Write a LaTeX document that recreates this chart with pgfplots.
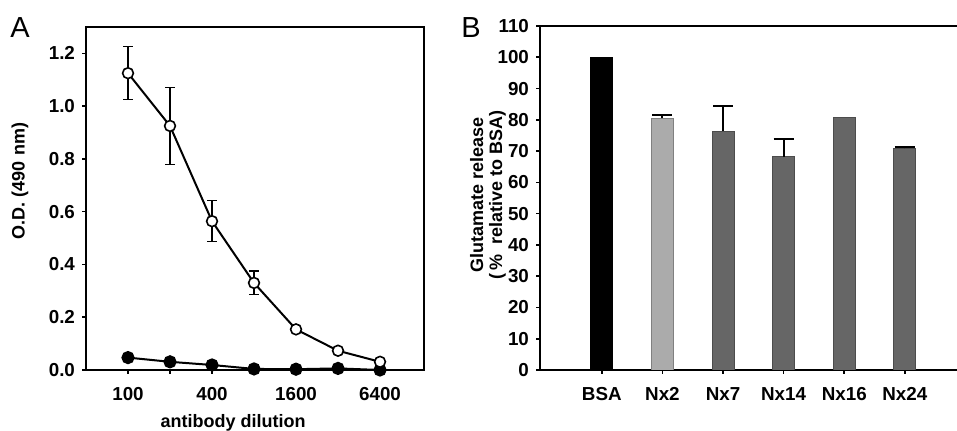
\documentclass[border=0pt]{standalone}
\usepackage{pgfplots}
\pgfplotsset{compat=1.18}
\usepackage{fontspec}
\setmainfont{Liberation Sans}
\definecolor{barlight}{HTML}{ABABAB}
\definecolor{bardark}{HTML}{666666}
\begin{document}
\begin{tikzpicture}
\useasboundingbox (0,0) rectangle (478.5pt,215.5pt);
\pgfplotsset{
  every axis/.append style={
    scale only axis,
    font=\fontsize{9.4}{10.5}\selectfont\bfseries,
    label style={font=\fontsize{9}{9.5}\selectfont\bfseries},
    axis line style={line width=0.8pt},
    tick style={line width=0.8pt, black},
    tick align=outside,
    major tick length=2pt,
    tick pos=left,
    xticklabel style={text height=1.6ex, text depth=0.2ex, yshift=-1.5pt},
    /pgf/number format/assume math mode=true,
  }
}
% panel A
\node[font=\fontsize{14.5}{16}\selectfont] at (10pt,201.5pt) {A};
\begin{axis}[
  at={(43pt,30.5pt)}, anchor=south west,
  width=169pt, height=171.5pt,
  xmode=log, log basis x=2,
  xmin=50, xmax=13228, ymin=0, ymax=1.3,
  xtick={100,200,400,800,1600,3200,6400},
  xticklabels={100,,400,,1600,,6400},
  ytick={0,0.2,0.4,0.6,0.8,1.0,1.2},
  yticklabel style={/pgf/number format/.cd, fixed, fixed zerofill, precision=1},
  ylabel={O.D. (490 nm)},
  ylabel style={at={(axis description cs:-0.195,0.551)}, anchor=center},
  xlabel={antibody dilution},
  xlabel style={at={(axis description cs:0.435,-0.155)}, anchor=center},
  clip=false,
]
\addplot[black, line width=1pt, mark=*, mark size=2.8pt, mark options={fill=black}]
  coordinates {(100,0.047) (200,0.031) (400,0.019) (800,0.004) (1600,0.003) (3200,0.006) (6400,0.0)};
\addplot[black, line width=1pt, mark=*, mark size=2.7pt, mark options={fill=white, line width=0.8pt},
  error bars/.cd, y dir=both, y explicit,
  error bar style={line width=0.6pt},
  error mark options={rotate=90, mark size=2.3pt, line width=0.6pt}]
  coordinates {
    (100,1.125) +- (0,0.1)
    (200,0.925) +- (0,0.145)
    (400,0.564) +- (0,0.077)
    (800,0.33) +- (0,0.045)
    (1600,0.154) +- (0,0.012)
    (3200,0.073) +- (0,0)
    (6400,0.031) +- (0,0)
  };
\end{axis}
% panel B
\node[font=\fontsize{14.5}{16}\selectfont] at (235.5pt,201.5pt) {B};
\begin{axis}[
  at={(270pt,30.5pt)}, anchor=south west,
  width=210pt, height=172pt,
  xmin=-1.02, xmax=5.91, ymin=0, ymax=110,
  xtick={0,1,2,3,4,5},
  xticklabels={BSA,Nx2,Nx7,Nx14,Nx16,Nx24},
  ytick={0,10,...,110},
  ylabel={Glutamate release\\(\,\%\ \ relative to BSA)},
  ylabel style={align=center, at={(axis description cs:-0.124,0.509)}, anchor=center},
  ybar, bar width=11pt, bar shift=0pt,
]
\addplot[fill=black, draw=black, line width=0.4pt] coordinates {(0,100)};
\addplot[fill=barlight, draw=gray, line width=0.4pt,
  error bars/.cd, y dir=plus, y explicit,
  error bar style={line width=1pt, black},
  error mark options={rotate=90, mark size=5pt, line width=1pt, black}]
  coordinates {(1,80.5) +- (0,1.0)};
\addplot[fill=bardark, draw=black!70, line width=0.4pt,
  error bars/.cd, y dir=plus, y explicit,
  error bar style={line width=1pt, black},
  error mark options={rotate=90, mark size=5pt, line width=1pt, black}]
  coordinates {
    (2,76.4) +- (0,8.0)
    (3,68.2) +- (0,5.6)
    (5,70.9) +- (0,0.4)
  };
\addplot[fill=bardark, draw=black!70, line width=0.4pt] coordinates {(4,80.7)};
\end{axis}
\end{tikzpicture}
\end{document}
